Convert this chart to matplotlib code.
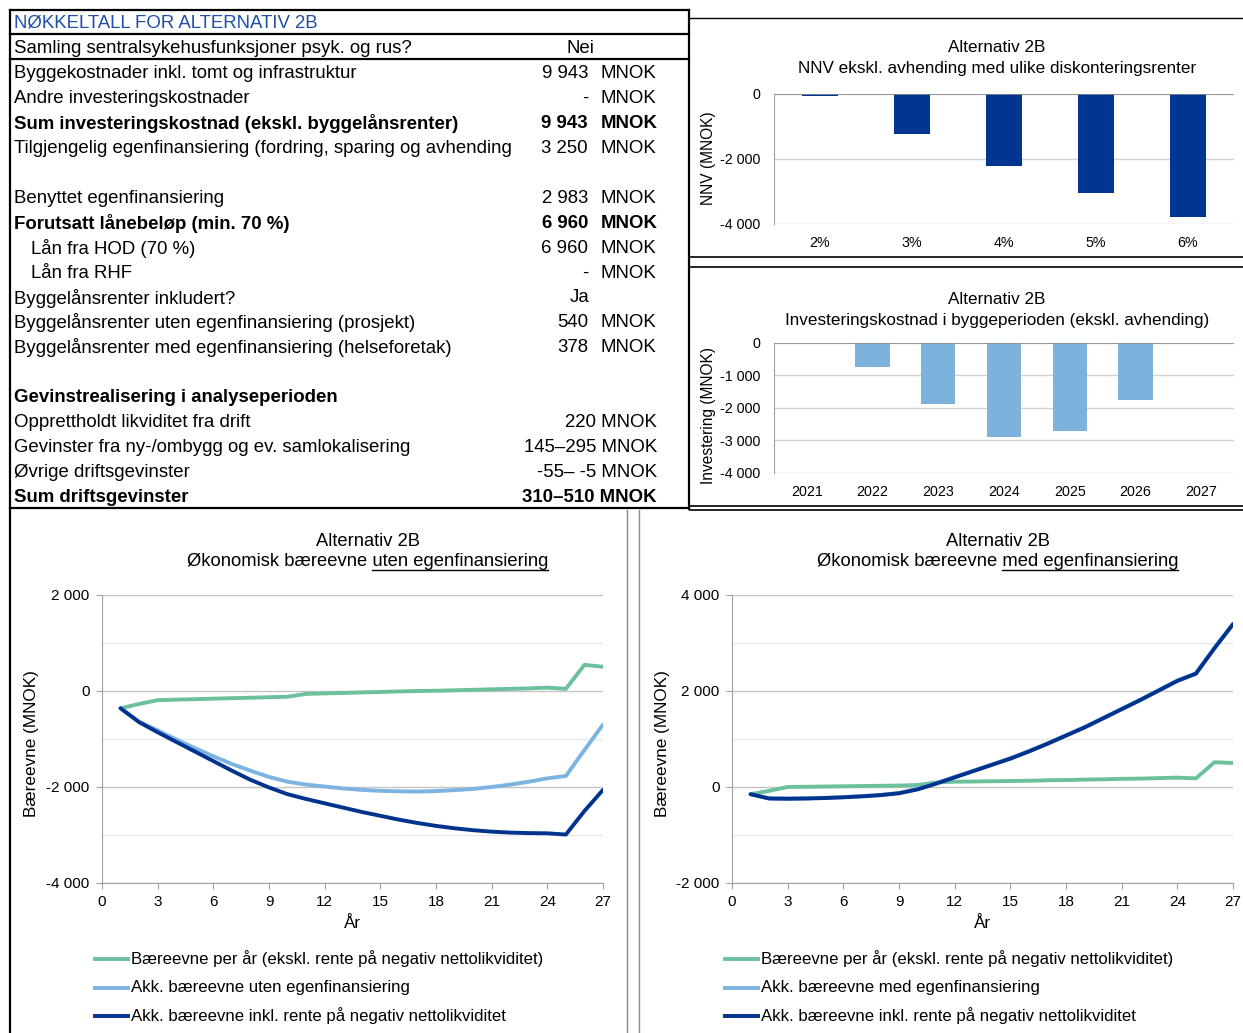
import matplotlib
matplotlib.use("Agg")
import matplotlib.pyplot as plt
from matplotlib.lines import Line2D
from matplotlib.ticker import FuncFormatter, MultipleLocator

plt.rcParams['font.family'] = ['Liberation Sans', 'DejaVu Sans']

W, H = 1243, 1033

# ---------------- data ----------------
table_title = "NØKKELTALL FOR ALTERNATIV 2B"
table_labels = [
    "Samling sentralsykehusfunksjoner psyk. og rus?",
    "Byggekostnader inkl. tomt og infrastruktur",
    "Andre investeringskostnader",
    "Sum investeringskostnad (ekskl. byggelånsrenter)",
    "Tilgjengelig egenfinansiering (fordring, sparing og avhending",
    "",
    "Benyttet egenfinansiering",
    "Forutsatt lånebeløp (min. 70 %)",
    "Lån fra HOD (70 %)",
    "Lån fra RHF",
    "Byggelånsrenter inkludert?",
    "Byggelånsrenter uten egenfinansiering (prosjekt)",
    "Byggelånsrenter med egenfinansiering (helseforetak)",
    "",
    "Gevinstrealisering i analyseperioden",
    "Opprettholdt likviditet fra drift",
    "Gevinster fra ny-/ombygg og ev. samlokalisering",
    "Øvrige driftsgevinster",
    "Sum driftsgevinster",
]
table_values = ["Nei", "9 943", "-", "9 943", "3 250", "", "2 983", "6 960", "6 960", "-",
                "Ja", "540", "378", "", "", "220", "145–295", "-55– -5", "310–510"]
table_units = ["", "MNOK", "MNOK", "MNOK", "MNOK", "", "MNOK", "MNOK", "MNOK", "MNOK",
               "", "MNOK", "MNOK", "", "", "MNOK", "MNOK", "MNOK", "MNOK"]
table_bold = {3, 7, 14, 18}
table_indent = {8, 9}
table_joined = {15, 16, 17, 18}

nnv_rates = ["2%", "3%", "4%", "5%", "6%"]
nnv_values = [-60, -1235, -2225, -3060, -3770]

inv_years = ["2021", "2022", "2023", "2024", "2025", "2026", "2027"]
inv_values = [0, -740, -1865, -2880, -2695, -1755, 0]

years = list(range(1, 28))

uten_per_aar = [-360, -270, -190, -180, -170, -160, -150, -140, -130, -120,
                -60, -50, -40, -30, -20, -10, 0, 5, 15, 25,
                35, 45, 55, 70, 45, 545, 505]
uten_akk = [-360, -640, -820, -1010, -1190, -1360, -1520, -1660, -1790, -1890,
            -1950, -1990, -2030, -2060, -2080, -2090, -2095, -2085, -2065, -2040,
            -2000, -1950, -1890, -1820, -1770, -1230, -700]
uten_akk_rente = [-360, -650, -860, -1060, -1260, -1460, -1660, -1850, -2010, -2150,
                  -2250, -2340, -2430, -2520, -2600, -2680, -2750, -2810, -2860, -2900,
                  -2930, -2950, -2960, -2965, -2990, -2500, -2060]

med_per_aar = [-150, -80, 0, 5, 10, 15, 20, 25, 30, 40,
               95, 110, 115, 120, 125, 130, 140, 145, 155, 160,
               170, 175, 185, 195, 180, 515, 500]
med_akk = [-150, -235, -240, -235, -225, -210, -190, -165, -125, -40,
           80, 210, 340, 470, 600, 750, 910, 1080, 1250, 1440,
           1630, 1820, 2020, 2220, 2370, 2900, 3400]
med_akk_rente = [-150, -240, -245, -240, -230, -215, -195, -170, -130, -50,
                 70, 200, 330, 460, 590, 740, 900, 1070, 1240, 1430,
                 1620, 1810, 2010, 2210, 2360, 2890, 3390]

legend_left = ["Bæreevne per år (ekskl. rente på negativ nettolikviditet)",
               "Akk. bæreevne uten egenfinansiering",
               "Akk. bæreevne inkl. rente på negativ nettolikviditet"]
legend_right = ["Bæreevne per år (ekskl. rente på negativ nettolikviditet)",
                "Akk. bæreevne med egenfinansiering",
                "Akk. bæreevne inkl. rente på negativ nettolikviditet"]

# ---------------- styling ----------------
C_GREEN = "#6CC09C"
C_LIGHT = "#7DB3E0"
C_DARK = "#00338E"
C_BAR_DARK = "#003591"
C_BAR_LIGHT = "#7DB2DC"
C_GRID = "#D3D3D3"
C_GRID_MINOR = "#E8E8E8"
C_AXIS = "#A0A0A0"
LINE_W = 2.8

fig = plt.figure(figsize=(W / 100, H / 100), dpi=100)


def fx(x):
    return x / W


def fy(y):
    return 1 - y / H


def axes_px(x0, y0, x1, y1):
    return fig.add_axes([fx(x0), fy(y1), (x1 - x0) / W, (y1 - y0) / H])


def hline(x0, x1, y, color="black", lw=1.0):
    fig.add_artist(Line2D([fx(x0), fx(x1)], [fy(y), fy(y)], color=color, lw=lw,
                          transform=fig.transFigure))


def vline(x, y0, y1, color="black", lw=1.0):
    fig.add_artist(Line2D([fx(x), fx(x)], [fy(y0), fy(y1)], color=color, lw=lw,
                          transform=fig.transFigure))


def thousands(v, pos=None):
    s = f"{abs(v):,.0f}".replace(",", " ")
    return ("-" if v < 0 else "") + s


# ---------------- key figures table ----------------
TFS = 13.4
fig.text(fx(14), fy(23), table_title, color="#1F4FA8", fontsize=TFS, va="center", ha="left")
for i, lab in enumerate(table_labels):
    y = 48.5 + i * 24.95
    weight = "bold" if i in table_bold else "normal"
    x = 31 if i in table_indent else 14
    if lab:
        fig.text(fx(x), fy(y), lab, fontsize=TFS, va="center", ha="left", fontweight=weight)
    val, unit = table_values[i], table_units[i]
    if not val:
        continue
    if not unit:
        fig.text(fx(580), fy(y), val, fontsize=TFS, va="center", ha="center", fontweight=weight)
    elif i in table_joined:
        fig.text(fx(657), fy(y), f"{val} {unit}", fontsize=TFS, va="center", ha="right",
                 fontweight=weight)
    else:
        fig.text(fx(588), fy(y), val, fontsize=TFS, va="center", ha="right", fontweight=weight)
        fig.text(fx(601), fy(y), unit, fontsize=TFS, va="center", ha="left", fontweight=weight)

# table frame
hline(10, 689, 10, lw=1.6)
hline(10, 689, 34, lw=1.6)
hline(10, 689, 59, lw=1.6)
hline(10, 689, 508, lw=1.6)
vline(10, 10, 1033, lw=1.6)
vline(689, 10, 509, lw=1.6)

# right-hand separators
hline(690, 1243, 18, lw=1.0)
hline(690, 1243, 257, lw=1.2)
hline(690, 1243, 267, lw=1.2)
hline(690, 1243, 506, lw=1.2)
hline(690, 1243, 509.5, lw=1.2)
vline(627, 510, 1033, color="#8A8A8A", lw=1.0)
vline(639, 510, 1033, color="#8A8A8A", lw=1.0)


# ---------------- bar charts ----------------
def bar_chart(box, cats, vals, color, width, title1, title2, title_y, ylabel, ylab_y, step):
    ax = axes_px(*box)
    ax.bar(range(len(cats)), vals, width=width, color=color, zorder=3)
    ax.set_xlim(-0.5, len(cats) - 0.5)
    ax.set_ylim(-4000, 0)
    ax.yaxis.set_major_locator(MultipleLocator(step))
    ax.yaxis.set_major_formatter(FuncFormatter(thousands))
    ax.set_xticks(range(len(cats)))
    ax.set_xticklabels(cats)
    ax.grid(axis="y", color=C_GRID, lw=1.0, zorder=0)
    ax.axhline(0, color="#8C8C8C", lw=1.2, zorder=4)
    for s in ("top", "right", "bottom"):
        ax.spines[s].set_visible(False)
    ax.spines["left"].set_color(C_AXIS)
    ax.tick_params(axis="both", length=0, labelsize=10.3)
    ax.tick_params(axis="y", pad=10)
    ax.tick_params(axis="x", pad=9)
    cx = (box[0] + box[2]) / 2 - 7
    fig.text(fx(cx), fy(title_y), title1, ha="center", va="center", fontsize=12.3)
    fig.text(fx(cx), fy(title_y + 20), title2, ha="center", va="center", fontsize=12.3)
    fig.text(fx(709), fy(ylab_y), ylabel, rotation=90, ha="center", va="center", fontsize=11.2)
    return ax


bar_chart((774, 94, 1234, 224), nnv_rates, nnv_values, C_BAR_DARK, 0.39,
          "Alternativ 2B", "NNV ekskl. avhending med ulike diskonteringsrenter", 48,
          "NNV (MNOK)", 158, 2000)
bar_chart((774, 343, 1234, 473), inv_years, inv_values, C_BAR_LIGHT, 0.52,
          "Alternativ 2B", "Investeringskostnad i byggeperioden (ekskl. avhending)", 300,
          "Investering (MNOK)", 415, 1000)


# ---------------- line charts ----------------
def line_chart(box, ylim, per_aar, akk, akk_rente, subtitle_plain, subtitle_ul, ylab_x,
               legend_labels, legend_x):
    ax = axes_px(*box)
    ax.plot(years, per_aar, color=C_GREEN, lw=LINE_W, solid_capstyle="round",
            solid_joinstyle="round", zorder=3)
    ax.plot(years, akk, color=C_LIGHT, lw=LINE_W, solid_capstyle="round",
            solid_joinstyle="round", zorder=4)
    ax.plot(years, akk_rente, color=C_DARK, lw=LINE_W, solid_capstyle="round",
            solid_joinstyle="round", zorder=5)
    ax.set_xlim(0, 27)
    ax.set_ylim(*ylim)
    ax.xaxis.set_major_locator(MultipleLocator(3))
    ax.yaxis.set_major_locator(MultipleLocator(2000))
    ax.yaxis.set_minor_locator(MultipleLocator(1000))
    ax.yaxis.set_major_formatter(FuncFormatter(thousands))
    ax.grid(axis="y", which="major", color="#C4C4C4", lw=1.0, zorder=0)
    ax.grid(axis="y", which="minor", color=C_GRID_MINOR, lw=1.0, zorder=0)
    for s in ("top", "right"):
        ax.spines[s].set_visible(False)
    ax.spines["left"].set_color(C_AXIS)
    ax.spines["bottom"].set_color(C_AXIS)
    ax.tick_params(axis="both", which="major", length=4, color=C_AXIS, labelsize=11)
    ax.tick_params(axis="y", which="minor", length=0)
    ax.tick_params(axis="y", pad=5)
    ax.tick_params(axis="x", pad=5)
    ax.set_xlabel("År", fontsize=12.3, labelpad=5)
    fig.text(fx(ylab_x), fy((box[1] + box[3]) / 2 + 5), "Bæreevne (MNOK)", rotation=90,
             ha="center", va="center", fontsize=12.3)

    cx = (box[0] + box[2]) / 2 + 15
    fig.text(fx(cx), fy(541), "Alternativ 2B", ha="center", va="center", fontsize=13.2)
    full = subtitle_plain + subtitle_ul
    t = fig.text(fx(cx), fy(562), full, ha="center", va="center", fontsize=13.2)
    fig.canvas.draw()
    r = fig.canvas.get_renderer()
    bb = t.get_window_extent(r)
    probe = fig.text(0, 0, subtitle_ul, fontsize=13.2)
    w_ul = probe.get_window_extent(r).width
    probe.remove()
    y_ul = bb.y0 + 0.5
    fig.add_artist(Line2D([(bb.x1 - w_ul) / W, bb.x1 / W], [y_ul / H, y_ul / H],
                          color="black", lw=1.0, transform=fig.transFigure))

    for k, (lab, col) in enumerate(zip(legend_labels, (C_GREEN, C_LIGHT, C_DARK))):
        y = 959 + k * 28.5
        fig.add_artist(Line2D([fx(legend_x), fx(legend_x + 33)], [fy(y), fy(y)], color=col,
                              lw=LINE_W, transform=fig.transFigure))
        fig.text(fx(legend_x + 36), fy(y), lab, ha="left", va="center", fontsize=12.1)
    return ax


line_chart((102, 595, 603, 883), (-4000, 2000), uten_per_aar, uten_akk, uten_akk_rente,
           "Økonomisk bæreevne ", "uten egenfinansiering", 32, legend_left, 95)
line_chart((732, 595, 1233, 883), (-2000, 4000), med_per_aar, med_akk, med_akk_rente,
           "Økonomisk bæreevne ", "med egenfinansiering", 662, legend_right, 725)

fig.savefig("out.png", dpi=100)
